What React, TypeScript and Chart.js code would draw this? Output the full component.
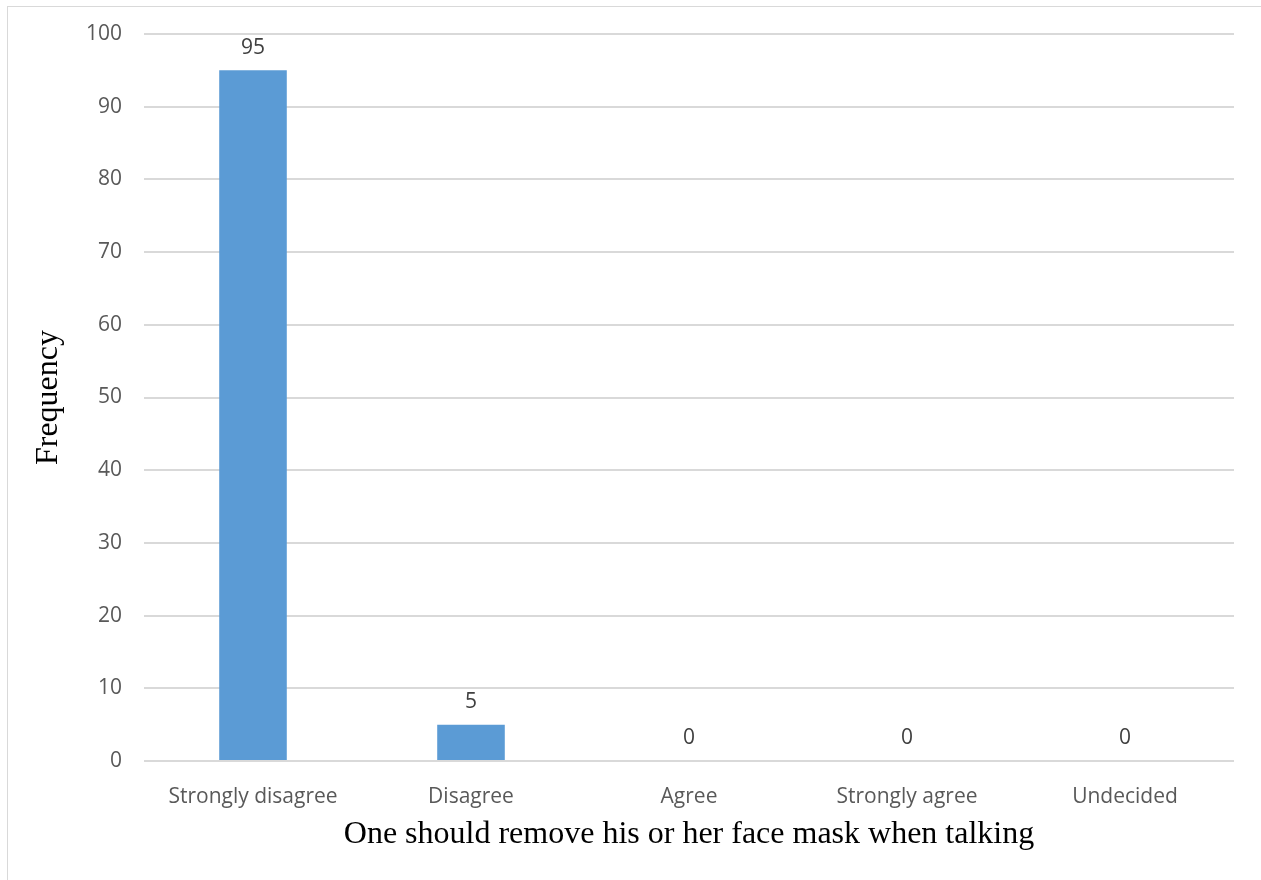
import React, { useEffect, useRef } from "react";
import { Chart, registerables } from "chart.js";

Chart.register(...registerables);

const categories = ["Strongly disagree", "Disagree", "Agree", "Strongly agree", "Undecided"];
const frequencies = [95, 5, 0, 0, 0];
const yTicks = [0, 10, 20, 30, 40, 50, 60, 70, 80, 90, 100];

const SANS = "'Open Sans', 'Noto Sans', sans-serif";
const SERIF = "'Liberation Serif', 'DejaVu Serif', serif";

// Writes each bar's value just above its top edge
const valueLabels = {
  id: "valueLabels",
  afterDatasetsDraw(chart: Chart) {
    const { ctx } = chart;
    const meta = chart.getDatasetMeta(0);
    ctx.save();
    ctx.font = `21px ${SANS}`;
    ctx.fillStyle = "#404040";
    ctx.textAlign = "center";
    ctx.textBaseline = "bottom";
    meta.data.forEach((bar: any, i: number) => {
      ctx.fillText(String(frequencies[i]), bar.x, bar.y - 12);
    });
    ctx.restore();
  },
};

export default function App() {
  const canvasRef = useRef<HTMLCanvasElement | null>(null);

  useEffect(() => {
    if (!canvasRef.current) return;
    const chart = new Chart(canvasRef.current, {
      type: "bar",
      data: {
        labels: categories,
        datasets: [
          {
            data: frequencies,
            backgroundColor: "#5B9BD5",
            barPercentage: 0.31,
            categoryPercentage: 1,
          },
        ],
      },
      options: {
        animation: false,
        responsive: false,
        layout: { padding: { top: 27, right: 34, left: 0, bottom: 0 } },
        plugins: {
          legend: { display: false },
          tooltip: { enabled: false },
        },
        scales: {
          x: {
            grid: { display: false },
            border: { display: false },
            ticks: { color: "#595959", font: { family: SANS, size: 21 }, padding: 15 },
            title: {
              display: true,
              text: "One should remove his or her face mask when talking",
              color: "#000000",
              font: { family: SERIF, size: 32 },
              padding: { top: 0, bottom: 26 },
            },
            afterFit(scale: any) {
              scale.height = 119;
            },
          },
          y: {
            min: 0,
            max: 100,
            afterBuildTicks(scale: any) {
              scale.ticks = yTicks.map((v) => ({ value: v }));
            },
            grid: { color: "#D9D9D9", lineWidth: 2, drawTicks: false },
            border: { display: false },
            ticks: { color: "#595959", font: { family: SANS, size: 21 }, padding: 22 },
            title: {
              display: true,
              text: "Frequency",
              color: "#000000",
              font: { family: SERIF, size: 32 },
              padding: { top: 21, bottom: 0 },
            },
            afterFit(scale: any) {
              scale.width = 136;
              scale.paddingTop = 0;
              scale.paddingBottom = 0;
            },
          },
        },
      },
      plugins: [valueLabels],
    });
    return () => chart.destroy();
  }, []);

  return (
    <div
      style={{
        position: "absolute",
        left: 7,
        top: 6,
        width: 1262,
        height: 880,
        border: "1px solid #D9D9D9",
        background: "#FFFFFF",
        boxSizing: "border-box",
      }}
    >
      <canvas ref={canvasRef} width={1260} height={873} style={{ display: "block" }} />
    </div>
  );
}
